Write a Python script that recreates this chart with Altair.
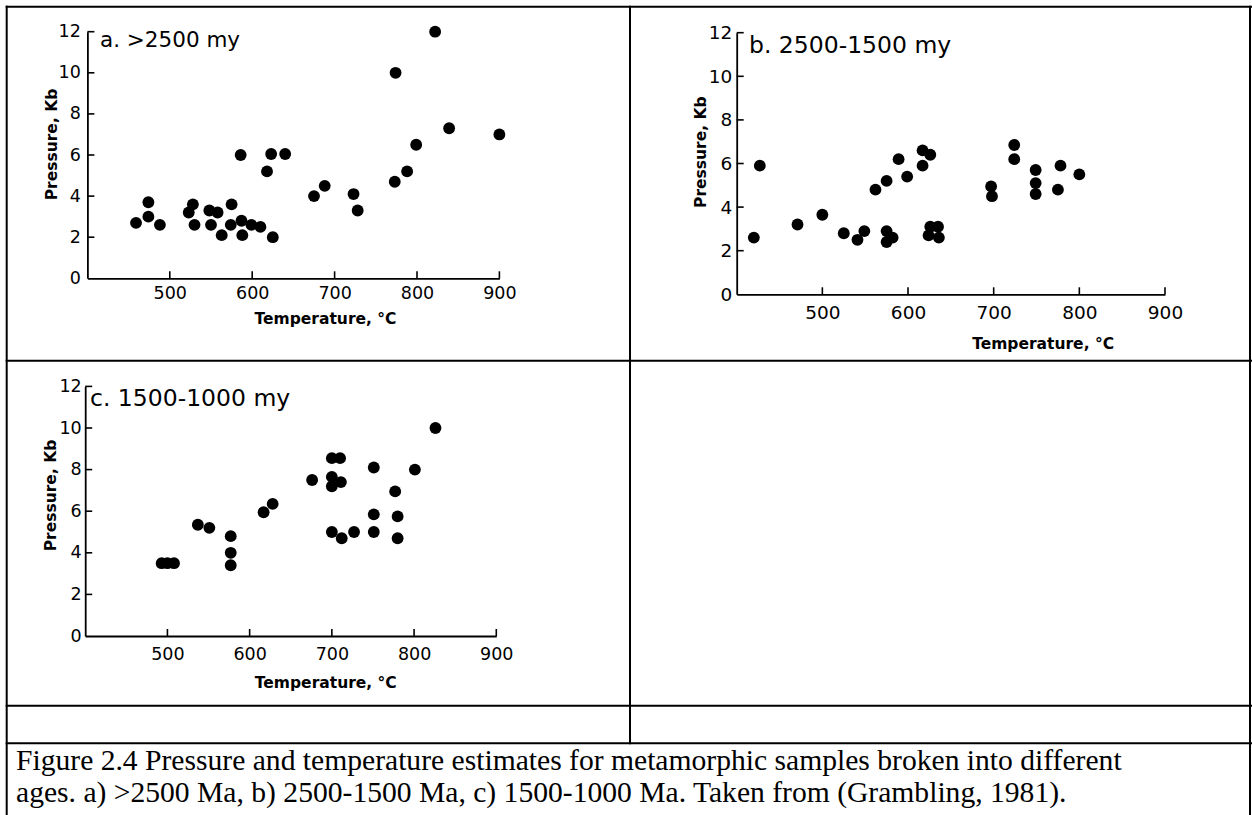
import altair as alt
import pandas as pd

W, H = 1252, 815
FONT = "DejaVu Sans"
SERIF = "Liberation Serif"

# ---------------- data ----------------
a_temp = [459, 474, 474, 488, 523, 528, 530, 548, 558, 550, 563, 575, 574, 587, 588, 586,
          599, 610, 618, 623, 625, 640, 675, 688, 723, 728, 774, 773, 788, 799, 822, 839, 900]
a_pres = [2.7, 3.7, 3.0, 2.6, 3.2, 3.6, 2.6, 3.3, 3.2, 2.6, 2.1, 3.6, 2.6, 2.8, 2.1, 6.0,
          2.6, 2.5, 5.2, 6.05, 2.0, 6.05, 4.0, 4.5, 4.1, 3.3, 10.0, 4.7, 5.2, 6.5, 12.0, 7.3, 7.0]

b_temp = [420, 427, 471, 500, 525, 541, 549, 562, 575, 575, 575, 582, 589, 599, 617, 617,
          626, 626, 624, 635, 636, 697, 698, 724, 724, 749, 749, 749, 775, 778, 800]
b_pres = [2.6, 5.9, 3.2, 3.65, 2.8, 2.5, 2.9, 4.8, 5.2, 2.9, 2.4, 2.6, 6.2, 5.4, 6.6, 5.9,
          6.4, 3.1, 2.7, 3.1, 2.6, 4.95, 4.5, 6.85, 6.2, 5.7, 5.1, 4.6, 4.8, 5.9, 5.5]

c_temp = [493, 500, 508, 537, 551, 577, 577, 577, 617, 628, 676, 700, 710, 700, 700, 711,
          700, 712, 727, 751, 751, 751, 777, 780, 780, 801, 826]
c_pres = [3.5, 3.5, 3.5, 5.35, 5.2, 4.8, 4.0, 3.4, 5.95, 6.35, 7.5, 8.55, 8.55, 7.65, 7.2, 7.4,
          5.0, 4.7, 5.0, 8.1, 5.85, 5.0, 6.95, 5.75, 4.7, 8.0, 10.0]

x_ticks = [500, 600, 700, 800, 900]
y_ticks = [2, 4, 6, 8, 10, 12]
y_labels = [0, 2, 4, 6, 8, 10, 12]

panel_titles = ["a. >2500 my", "b. 2500-1500 my", "c. 1500-1000 my"]
x_title = "Temperature, °C"
y_title = "Pressure, Kb"
caption_lines = [
    "Figure 2.4 Pressure and temperature estimates for metamorphic samples broken into different",
    "ages. a) >2500 Ma, b) 2500-1500 Ma, c) 1500-1000 Ma. Taken from (Grambling, 1981).",
]

T_DOMAIN = [400, 900]
P_DOMAIN = [0, 12]

# ---------------- layout of each panel (pixels) ----------------
panels = [
    dict(temp=a_temp, pres=a_pres, title=panel_titles[0],
         xr=[87.4, 499.4], yr=[278.3, 31.7], lab=17.5, xpad=6, ypad=7,
         tpos=(100, 41), tsize=21.5, ytp=(51, 144), xtp=(325, 318.5)),
    dict(temp=b_temp, pres=b_pres, title=panel_titles[1],
         xr=[736.7, 1165.0], yr=[294.3, 32.7], lab=18.5, xpad=9, ypad=5,
         tpos=(749, 46), tsize=23.5, ytp=(700.4, 151.7), xtp=(1042.6, 343.3)),
    dict(temp=c_temp, pres=c_pres, title=panel_titles[2],
         xr=[85.2, 496.3], yr=[636.0, 386.4], lab=17.5, xpad=9, ypad=4,
         tpos=(90, 399), tsize=23.5, ytp=(51, 495), xtp=(325.3, 682.5)),
]

one = pd.DataFrame({"k": [0]})


def panel_layers(p):
    xs = alt.Scale(domain=T_DOMAIN, range=p["xr"], nice=False, zero=False)
    ys = alt.Scale(domain=P_DOMAIN, range=p["yr"], nice=False, zero=False)
    x0, y0 = p["xr"][0], p["yr"][0]
    x_axis = alt.Axis(
        orient="bottom", offset=y0 - H, values=x_ticks, ticks=False, tickSize=0,
        labelPadding=p["xpad"], labelFontSize=p["lab"], labelFont=FONT, labelColor="black",
        labelFlush=False, labelOverlap=False, domainColor="black", domainWidth=1.8, grid=False,
        title=x_title, titleX=p["xtp"][0], titleY=p["xtp"][1] - y0, titleAlign="center",
        titleBaseline="middle", titleFont=FONT, titleFontSize=15.5, titleFontWeight="bold",
        titleColor="black")
    y_axis = alt.Axis(
        orient="left", offset=-x0, values=y_labels, ticks=False, tickSize=0,
        labelPadding=p["ypad"], labelFontSize=p["lab"], labelFont=FONT, labelColor="black",
        labelFlush=False, labelOverlap=False, domainColor="black", domainWidth=1.8, grid=False,
        title=y_title, titleAngle=270, titleX=p["ytp"][0] - x0, titleY=p["ytp"][1],
        titleAlign="center", titleBaseline="middle", titleFont=FONT, titleFontSize=15.5,
        titleFontWeight="bold", titleColor="black")

    df = pd.DataFrame({"T": p["temp"], "P": p["pres"]})
    pts = alt.Chart(df).mark_circle(size=140, color="black", opacity=1).encode(
        x=alt.X("T:Q", scale=xs, axis=x_axis),
        y=alt.Y("P:Q", scale=ys, axis=y_axis),
    )

    tick_px = 7.0
    len_p = tick_px * (P_DOMAIN[1] - P_DOMAIN[0]) / (p["yr"][0] - p["yr"][1])
    len_t = tick_px * (T_DOMAIN[1] - T_DOMAIN[0]) / (p["xr"][1] - p["xr"][0])

    xt = alt.Chart(pd.DataFrame({"v": x_ticks})).transform_calculate(
        p0="0", p1=str(len_p)
    ).mark_rule(color="black", strokeWidth=1.6).encode(
        x=alt.X("v:Q", scale=xs, axis=None),
        y=alt.Y("p0:Q", scale=ys, axis=None),
        y2="p1:Q",
    )
    yt = alt.Chart(pd.DataFrame({"v": y_ticks})).transform_calculate(
        t0=str(T_DOMAIN[0]), t1=str(T_DOMAIN[0] + len_t)
    ).mark_rule(color="black", strokeWidth=1.6).encode(
        x=alt.X("t0:Q", scale=xs, axis=None),
        x2="t1:Q",
        y=alt.Y("v:Q", scale=ys, axis=None),
    )
    ttl = alt.Chart(pd.DataFrame({"t": [p["title"]]})).mark_text(
        align="left", baseline="middle", font=FONT, fontSize=p["tsize"], color="black"
    ).encode(x=alt.value(p["tpos"][0]), y=alt.value(p["tpos"][1]), text="t:N")
    return [pts, xt, yt, ttl]


def hline(y, x1, x2, w=2):
    return alt.Chart(one).mark_rule(color="black", strokeWidth=w).encode(
        x=alt.value(x1), x2=alt.value(x2), y=alt.value(y))


def vline(x, y1, y2, w=2):
    return alt.Chart(one).mark_rule(color="black", strokeWidth=w).encode(
        x=alt.value(x), y=alt.value(y1), y2=alt.value(y2))


lines = [
    hline(6.7, 5.7, W),
    hline(360.7, 5.7, W),
    hline(705.7, 5.7, W),
    hline(743.3, 5.7, W),
    vline(6.7, 5.7, H),
    vline(630, 5.7, 744.3),
    vline(1250, 5.7, H),
]

caption = []
for i, line in enumerate(caption_lines):
    caption.append(
        alt.Chart(pd.DataFrame({"t": [line]})).mark_text(
            align="left", baseline="alphabetic", font=SERIF, fontSize=29.6, color="black"
        ).encode(x=alt.value(16), y=alt.value(770 + 32 * i), text="t:N")
    )

layers = lines[:]
for p in panels:
    layers += panel_layers(p)
layers += caption

chart = alt.layer(*layers).resolve_scale(
    x="independent", y="independent"
).resolve_axis(
    x="independent", y="independent"
).properties(
    width=W, height=H, padding=0, background="white",
    autosize=alt.AutoSizeParams(type="none"),
).configure_view(stroke=None)

chart.save("out.html", embed_options={"renderer": "svg", "actions": False})
